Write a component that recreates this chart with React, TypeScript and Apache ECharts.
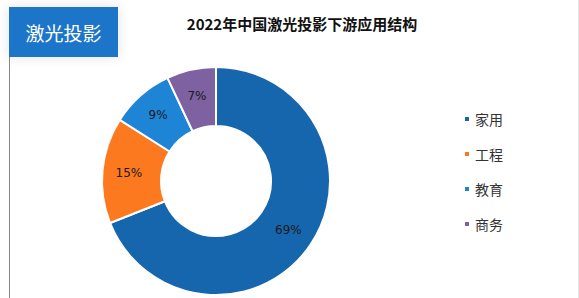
import React, { useEffect, useRef } from "react";
import * as echarts from "echarts";

const categories = ["家用", "工程", "教育", "商务"];
const values = [69, 15, 9, 7];
const colors = ["#1666ae", "#fd7920", "#1e84d6", "#7e61a0"];
const titleText = "2022年中国激光投影下游应用结构";
const badgeText = "激光投影";

export default function App() {
  const ref = useRef<HTMLDivElement>(null);
  useEffect(() => {
    document.body.style.margin = "0";
    const chart = echarts.init(ref.current!, null, { renderer: "svg" });
    chart.setOption({
      animation: false,
      backgroundColor: "#ffffff",
      color: colors,
      title: {
        text: titleText,
        left: 297,
        textAlign: "center",
        top: 11,
        textStyle: { fontSize: 15, fontWeight: "bold", color: "#111", fontFamily: "Noto Sans CJK SC" },
      },
      legend: {
        orient: "vertical",
        left: 458,
        top: 107,
        itemWidth: 6,
        itemHeight: 6,
        itemGap: 21,
        icon: "rect",
        data: categories,
        textStyle: { fontSize: 14, color: "#333", fontFamily: "Noto Sans CJK SC", padding: [0, 0, 0, 0] },
      },
      graphic: [
        {
          type: "line",
          shape: { x1: 9.5, y1: 57, x2: 9.5, y2: 298 },
          style: { stroke: "#888", lineWidth: 1 },
        },
        {
          type: "line",
          shape: { x1: 578.5, y1: 0, x2: 578.5, y2: 298 },
          style: { stroke: "#e6e6e6", lineWidth: 1 },
        },
        {
          type: "rect",
          shape: { x: 9, y: 7, width: 109, height: 50 },
          style: { fill: "#1f74c9", shadowBlur: 12, shadowColor: "rgba(0,0,0,0.12)" },
        },
        {
          type: "text",
          x: 63.5,
          y: 32,
          style: {
            text: badgeText,
            fill: "#ffffff",
            fontSize: 19,
            fontFamily: "Noto Sans CJK SC",
            align: "center",
            verticalAlign: "middle",
          },
        },
      ],
      series: [
        {
          type: "pie",
          center: [216, 181],
          radius: [55, 114],
          startAngle: 90,
          clockwise: true,
          itemStyle: { borderColor: "#fff", borderWidth: 2 },
          label: {
            show: true,
            position: "inside",
            formatter: "{d}%",
            color: "#1a1a1a",
            fontSize: 12,
            fontFamily: "DejaVu Sans",
          },
          labelLine: { show: false },
          data: categories.map((c, i) => ({ name: c, value: values[i] })),
        },
      ],
    });
    return () => chart.dispose();
  }, []);
  return <div ref={ref} style={{ width: 579, height: 298 }} />;
}
